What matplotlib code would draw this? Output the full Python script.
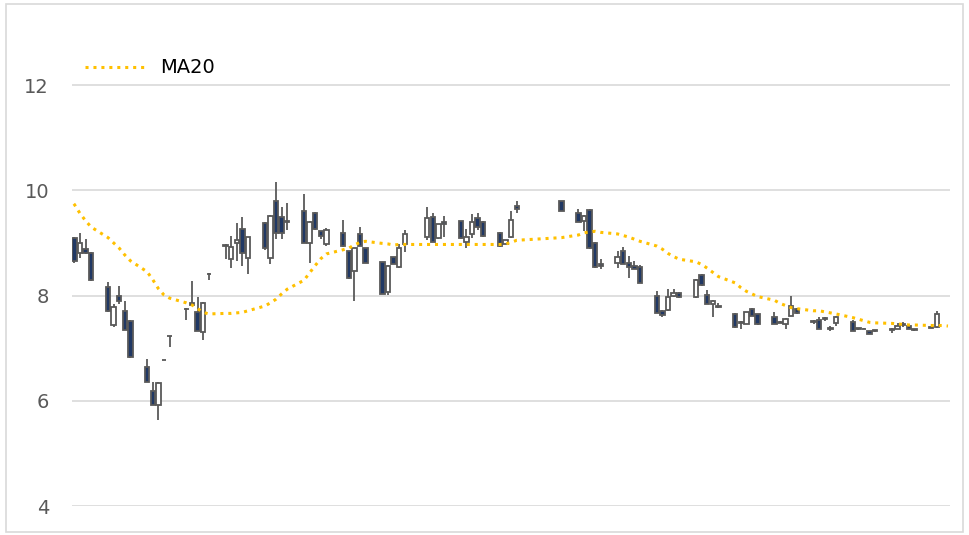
import numpy as np
import matplotlib.pyplot as plt
from matplotlib.patches import Rectangle

# calendar day number of each trading session (date axis: weekends / holidays stay empty)
day = [1, 2, 3, 4, 7, 8, 9, 10, 11, 14, 15, 16, 17, 18, 21, 22, 23, 24, 25,
       28, 29, 30, 31, 32, 35, 36, 37, 38, 39, 42, 43, 44, 45, 46, 49, 50, 51, 52, 53,
       56, 57, 58, 59, 60, 64, 65, 66, 67, 70, 71, 72, 73, 74, 77, 78, 79, 80, 88,
       91, 92, 93, 94, 95, 98, 99, 100, 101, 102, 105, 106, 107, 108, 109,
       112, 113, 114, 115, 116, 119, 120, 121, 122, 123, 126, 127, 128, 129, 130,
       133, 134, 135, 136, 137, 140, 141, 142, 143, 144, 147, 148, 149, 150, 151,
       154, 155]

open_ = [9.10, 8.81, 8.88, 8.80, 8.17, 7.44, 8.00, 7.70, 7.52,
         6.65, 6.19, 5.92, 6.78, 7.24, 7.75, 7.86, 7.68, 7.30, 8.41,
         8.96, 8.70, 9.00, 9.26, 8.71, 9.38, 8.71, 9.80, 9.49, 9.41,
         9.60, 9.00, 9.56, 9.22, 8.98, 9.19, 8.84, 8.46, 9.17, 8.90,
         8.63, 8.06, 8.73, 8.54, 8.98, 9.11, 9.49, 9.09, 9.40,
         9.41, 9.02, 9.16, 9.47, 9.40, 9.19, 8.98, 9.11, 9.70, 9.79,
         9.57, 9.41, 9.62, 9.00, 8.60, 8.62, 8.84, 8.62, 8.57, 8.54,
         8.00, 7.71, 7.73, 7.99, 8.05, 7.97, 8.39, 8.01, 7.84, 7.81,
         7.65, 7.50, 7.46, 7.75, 7.64, 7.59, 7.50, 7.45, 7.62, 7.75,
         7.51, 7.54, 7.57, 7.39, 7.47, 7.49, 7.38, 7.37, 7.32, 7.34,
         7.34, 7.37, 7.46, 7.43, 7.36, 7.41, 7.40]
high = [9.12, 9.19, 9.08, 8.82, 8.25, 7.84, 8.19, 7.89, 7.53,
        6.79, 6.36, 6.35, 6.78, 7.24, 7.76, 8.27, 7.97, 7.87, 8.42,
        8.98, 9.13, 9.38, 9.49, 9.12, 9.39, 9.53, 10.15, 9.68, 9.75,
        9.92, 9.41, 9.58, 9.23, 9.28, 9.43, 8.85, 8.91, 9.30, 8.91,
        8.64, 8.58, 8.74, 8.98, 9.24, 9.68, 9.57, 9.36, 9.51,
        9.42, 9.27, 9.54, 9.56, 9.41, 9.20, 9.06, 9.60, 9.79, 9.80,
        9.65, 9.53, 9.65, 9.01, 8.69, 8.84, 8.92, 8.76, 8.65, 8.58,
        8.08, 7.72, 8.13, 8.13, 8.06, 8.31, 8.40, 8.11, 7.91, 7.86,
        7.66, 7.51, 7.69, 7.76, 7.65, 7.68, 7.51, 7.57, 8.00, 7.76,
        7.54, 7.59, 7.59, 7.43, 7.61, 7.54, 7.39, 7.38, 7.33, 7.35,
        7.38, 7.47, 7.49, 7.44, 7.37, 7.42, 7.70]
low = [8.62, 8.72, 8.79, 8.28, 7.68, 7.40, 7.84, 7.34, 6.82,
       6.35, 5.91, 5.63, 6.78, 7.03, 7.54, 7.80, 7.32, 7.16, 8.30,
       8.69, 8.52, 8.65, 8.57, 8.41, 8.86, 8.60, 9.08, 9.07, 9.24,
       8.99, 8.62, 9.24, 9.08, 8.94, 8.93, 8.32, 7.90, 8.94, 8.61,
       8.02, 8.01, 8.59, 8.53, 8.83, 9.05, 9.01, 9.08, 9.11,
       9.08, 8.90, 9.09, 9.24, 9.12, 8.93, 8.97, 9.10, 9.57, 9.60,
       9.39, 9.22, 8.89, 8.52, 8.51, 8.52, 8.59, 8.33, 8.50, 8.23,
       7.66, 7.60, 7.70, 7.97, 7.96, 7.96, 8.19, 7.83, 7.60, 7.77,
       7.39, 7.37, 7.45, 7.61, 7.44, 7.45, 7.47, 7.37, 7.61, 7.65,
       7.46, 7.36, 7.52, 7.33, 7.43, 7.32, 7.35, 7.36, 7.26, 7.31,
       7.29, 7.36, 7.40, 7.36, 7.33, 7.38, 7.39]
close = [8.66, 9.00, 8.81, 8.29, 7.70, 7.79, 7.89, 7.35, 6.83,
         6.36, 5.92, 6.34, 6.78, 7.24, 7.75, 7.82, 7.33, 7.86, 8.41,
         8.94, 8.92, 9.05, 8.81, 9.11, 8.90, 9.52, 9.19, 9.19, 9.39,
         9.00, 9.40, 9.26, 9.13, 9.24, 8.94, 8.33, 8.90, 8.95, 8.62,
         8.03, 8.57, 8.60, 8.90, 9.16, 9.47, 9.02, 9.35, 9.35,
         9.09, 9.11, 9.40, 9.30, 9.13, 8.94, 9.05, 9.43, 9.64, 9.61,
         9.40, 9.52, 8.90, 8.54, 8.57, 8.73, 8.60, 8.54, 8.51, 8.24,
         7.67, 7.63, 7.97, 8.05, 7.97, 8.30, 8.20, 7.84, 7.90, 7.79,
         7.40, 7.48, 7.68, 7.62, 7.45, 7.46, 7.48, 7.56, 7.81, 7.66,
         7.49, 7.37, 7.55, 7.37, 7.60, 7.33, 7.36, 7.37, 7.27, 7.32,
         7.36, 7.43, 7.44, 7.37, 7.34, 7.39, 7.65]

# 20-day moving average (one session before the first candle, two after the last)
ma_day = [0] + day + [156, 157]
ma20 = [9.86, 9.73, 9.56, 9.42, 9.30, 9.10, 9.00, 8.90, 8.77, 8.66,
        8.45, 8.30, 8.13, 8.01, 7.95, 7.86, 7.82, 7.75, 7.68, 7.65,
        7.66, 7.66, 7.67, 7.68, 7.71, 7.80, 7.86, 7.93, 8.03, 8.12,
        8.29, 8.43, 8.57, 8.70, 8.79, 8.87, 8.90, 8.96, 9.01, 9.03,
        8.99, 8.98, 8.96, 8.97, 8.97, 8.97, 8.97, 8.97, 8.97,
        8.97, 8.97, 8.97, 8.97, 8.97, 8.97, 8.98, 9.01, 9.05, 9.10,
        9.15, 9.19, 9.21, 9.22, 9.20, 9.17, 9.14, 9.11, 9.07, 9.03,
        8.94, 8.88, 8.80, 8.74, 8.69, 8.64, 8.59, 8.52, 8.44, 8.36,
        8.24, 8.15, 8.08, 8.03, 7.98, 7.91, 7.85, 7.81, 7.77, 7.75,
        7.71, 7.71, 7.69, 7.67, 7.65, 7.58, 7.55, 7.52, 7.49, 7.48,
        7.47, 7.46, 7.45, 7.44, 7.44, 7.43, 7.43, 7.43, 7.42]

plt.rcParams['font.family'] = 'DejaVu Sans'

fig = plt.figure(figsize=(9.69, 5.35), dpi=100)
ax = fig.add_axes([72 / 969, 1 - 506 / 535, 878 / 969, 473.6 / 535])

# light frame around the whole chart
fig.patches.append(Rectangle((6 / 969, 3 / 535), 957 / 969, 528 / 535, transform=fig.transFigure,
                             fill=False, edgecolor='#d9d9d9', lw=1.2))

d = np.array(day)
o = np.array(open_)
h = np.array(high)
l = np.array(low)
c = np.array(close)
up = c >= o

edge = '#595959'
# wicks
ax.vlines(d, l, h, color=edge, lw=1.3, zorder=2)
# bodies
bottom = np.minimum(o, c)
height = np.abs(c - o)
ax.bar(d[up], height[up], bottom=bottom[up], width=0.8, color='white',
       edgecolor=edge, linewidth=1.3, zorder=3)
ax.bar(d[~up], height[~up], bottom=bottom[~up], width=0.8, color='#203864',
       edgecolor=edge, linewidth=1.3, zorder=3)

ma_line, = ax.plot(ma_day, ma20, color='#FFC000', lw=2.2, dashes=(1, 1.6),
                   dash_capstyle='butt', zorder=4, label='MA20')

ax.set_xlim(0.57, 157.36)
ax.set_ylim(4, 13)
ax.set_yticks([4, 6, 8, 10, 12])
ax.set_xticks([])
ax.tick_params(axis='y', length=0, pad=16.5, labelsize=14, labelcolor='#595959')
for s in ax.spines.values():
    s.set_visible(False)
ax.yaxis.grid(True, color='#d9d9d9', lw=1.2)
ax.set_axisbelow(True)

ax.legend(handles=[ma_line], loc='center left', bbox_to_anchor=(0.0057, 0.925),
          borderaxespad=0, frameon=False, fontsize=14, handlelength=3.1,
          handletextpad=0.75)

fig.savefig('out.png', dpi=100)
